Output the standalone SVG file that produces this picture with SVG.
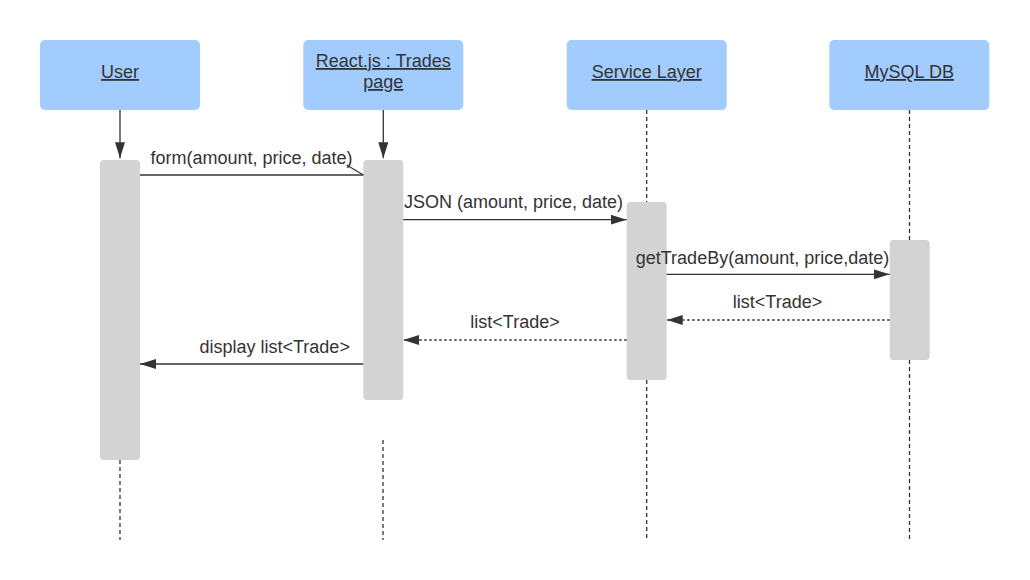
<svg xmlns="http://www.w3.org/2000/svg" width="1030" height="580" viewBox="0 0 1030 580">
<style>
.hdr{fill:#a3ccfe;stroke:none}
.act{fill:#d3d3d3;stroke:none}
.ht{font-family:"Liberation Sans",Arial,sans-serif;font-size:18px;fill:#333;text-anchor:middle;text-decoration:underline}
.mt{font-family:"Liberation Sans",Arial,sans-serif;font-size:18px;fill:#333;text-anchor:middle}
.ln{stroke:#333;stroke-width:1.3;fill:none}
.life{stroke:#333;stroke-width:1.3;fill:none;stroke-dasharray:4,3}
.ret{stroke:#333;stroke-width:1.3;fill:none;stroke-dasharray:2.5,2.5}
</style>
<defs>
<marker id="ah" viewBox="0 0 16 10" refX="16" refY="5" markerWidth="16" markerHeight="10" markerUnits="userSpaceOnUse" orient="auto">
<path d="M0,0 L16,5 L0,10 Z" fill="#333"/>
</marker>
</defs>
<rect width="1030" height="580" fill="#fff"/>
<g id="lifelines">
<line class="life" x1="120" y1="460" x2="120" y2="540"/>
<line class="life" x1="383" y1="440" x2="383" y2="540"/>
<line class="life" x1="646.7" y1="110" x2="646.7" y2="202"/>
<line class="life" x1="646.7" y1="380" x2="646.7" y2="540"/>
<line class="life" x1="909.5" y1="110" x2="909.5" y2="240"/>
<line class="life" x1="909.5" y1="360" x2="909.5" y2="540"/>
</g>
<g id="user">
<rect class="hdr" x="40" y="40" width="160" height="70" rx="5"/>
<text class="ht" x="120" y="78">User</text>
<rect class="act" x="100" y="160" width="40" height="300" rx="4"/>
</g>
<g id="react">
<rect class="hdr" x="303.3" y="40" width="160" height="70" rx="5"/>
<text class="ht" x="383.3" y="67">React.js : Trades</text>
<text class="ht" x="383.3" y="88">page</text>
<rect class="act" x="363.3" y="160" width="40" height="240" rx="4"/>
</g>
<g id="service">
<rect class="hdr" x="566.7" y="40" width="160" height="70" rx="5"/>
<text class="ht" x="646.7" y="78">Service Layer</text>
<rect class="act" x="626.7" y="202" width="40" height="178" rx="4"/>
</g>
<g id="mysql">
<rect class="hdr" x="829.3" y="40" width="160" height="70" rx="5"/>
<text class="ht" x="909.3" y="78">MySQL DB</text>
<rect class="act" x="889.7" y="240" width="40" height="120" rx="4"/>
</g>
<g id="connectors">
<line class="ln" x1="120" y1="110" x2="120" y2="158.3" marker-end="url(#ah)"/>
<line class="ln" x1="383.3" y1="110" x2="383.3" y2="158.3" marker-end="url(#ah)"/>
<line class="ln" x1="140" y1="175" x2="363.3" y2="175"/>
<line class="ln" x1="346.7" y1="165" x2="363.3" y2="175"/>
<text class="mt" x="251.5" y="164">form(amount, price, date)</text>
<line class="ln" x1="403.3" y1="219.7" x2="626.7" y2="219.7" marker-end="url(#ah)"/>
<text class="mt" x="513.5" y="207.5">JSON (amount, price, date)</text>
<line class="ln" x1="666.7" y1="274.3" x2="889.7" y2="274.3" marker-end="url(#ah)"/>
<text class="mt" x="762.5" y="264">getTradeBy(amount, price,date)</text>
<line class="ret" x1="889.7" y1="320" x2="666.7" y2="320" marker-end="url(#ah)"/>
<text class="mt" x="777.5" y="308">list&lt;Trade&gt;</text>
<line class="ret" x1="626.7" y1="340" x2="403.3" y2="340" marker-end="url(#ah)"/>
<text class="mt" x="515" y="328">list&lt;Trade&gt;</text>
<line class="ln" x1="363.3" y1="364" x2="140" y2="364" marker-end="url(#ah)"/>
<text class="mt" x="274.7" y="353">display list&lt;Trade&gt;</text>
</g>
</svg>
